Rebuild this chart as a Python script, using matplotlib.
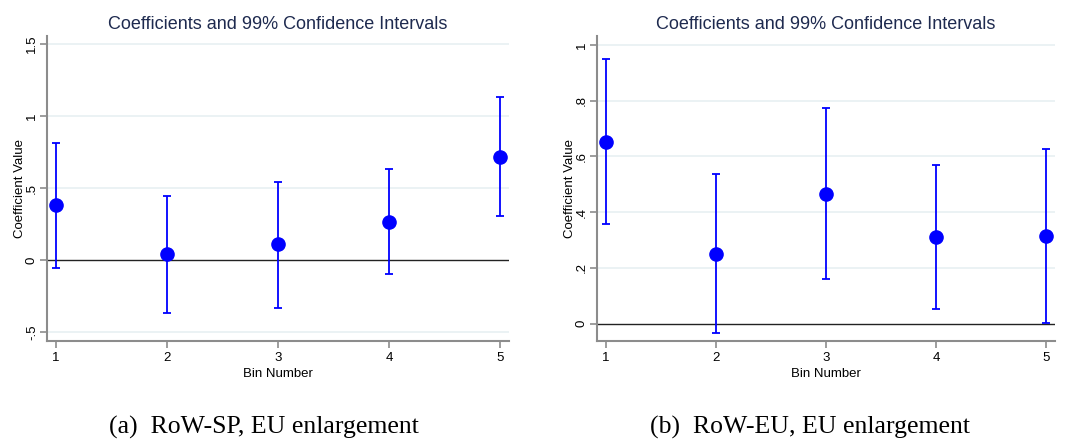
import matplotlib.pyplot as plt

# bin numbers and estimates
bins = [1, 2, 3, 4, 5]

coef_a = [0.38, 0.04, 0.11, 0.266, 0.717]
lo_a = [-0.053, -0.368, -0.33, -0.10, 0.303]
hi_a = [0.815, 0.445, 0.544, 0.634, 1.134]

coef_b = [0.652, 0.251, 0.464, 0.311, 0.313]
lo_b = [0.359, -0.034, 0.159, 0.051, 0.002]
hi_b = [0.949, 0.535, 0.774, 0.568, 0.626]

yticks_a = [-0.5, 0, 0.5, 1, 1.5]
ylabels_a = ['-.5', '0', '.5', '1', '1.5']
yticks_b = [0, 0.2, 0.4, 0.6, 0.8, 1]
ylabels_b = ['0', '.2', '.4', '.6', '.8', '1']

captions = ['(a)  RoW-SP, EU enlargement', '(b)  RoW-EU, EU enlargement']

plt.rcParams['font.family'] = ['Liberation Sans', 'DejaVu Sans']

fig = plt.figure(figsize=(10.86, 4.43), dpi=100)
ax_a = fig.add_axes([47/1086, 1-341/443, 462/1086, 305/443])
ax_b = fig.add_axes([597/1086, 1-341/443, 458/1086, 305/443])

spine_col = '#8c8c8c'


def panel(ax, coef, lo, hi, yticks, ylabels, ylim):
   err = [[c - l for c, l in zip(coef, lo)], [h - c for c, h in zip(coef, hi)]]
   for t in yticks:
      if t != 0:
         ax.axhline(t, color='#e8f0f2', lw=1.2, zorder=0)
   ax.axhline(0, color='#222222', lw=1.0, zorder=1)
   ax.errorbar(bins, coef, yerr=err, fmt='o', color='#0000ff', ecolor='#0000ff',
               markersize=9.5, elinewidth=1.3, capsize=3, capthick=1.3, zorder=3)
   ax.set_xlim(0.92, 5.08)
   ax.set_ylim(*ylim)
   ax.set_xticks(bins)
   ax.set_xticklabels([str(b) for b in bins])
   ax.set_yticks(yticks)
   ax.set_yticklabels(ylabels, rotation=90, va='center')
   for s in ['top', 'right']:
      ax.spines[s].set_visible(False)
   for s in ['left', 'bottom']:
      ax.spines[s].set_color(spine_col)
      ax.spines[s].set_linewidth(1.5)
   ax.tick_params(axis='both', colors=spine_col, labelcolor='black',
                  labelsize=9.5, length=5, width=1.2)
   ax.tick_params(axis='y', pad=1.5)
   ax.tick_params(axis='x', pad=3)
   ax.set_xlabel('Bin Number', fontsize=9.5, labelpad=3)
   ax.set_ylabel('Coefficient Value', fontsize=9.5, labelpad=0)
   ax.set_title('Coefficients and 99% Confidence Intervals', fontsize=13,
                color='#1e2a4f', pad=5)


panel(ax_a, coef_a, lo_a, hi_a, yticks_a, ylabels_a, (-0.5625, 1.556))
panel(ax_b, coef_b, lo_b, hi_b, yticks_b, ylabels_b, (-0.0625, 1.032))

fig.text(264/1086, 9/443, captions[0], ha='center', va='baseline',
         fontsize=18.5, family='Liberation Serif')
fig.text(810/1086, 9/443, captions[1], ha='center', va='baseline',
         fontsize=18.5, family='Liberation Serif')

fig.savefig('out.png', dpi=100)
